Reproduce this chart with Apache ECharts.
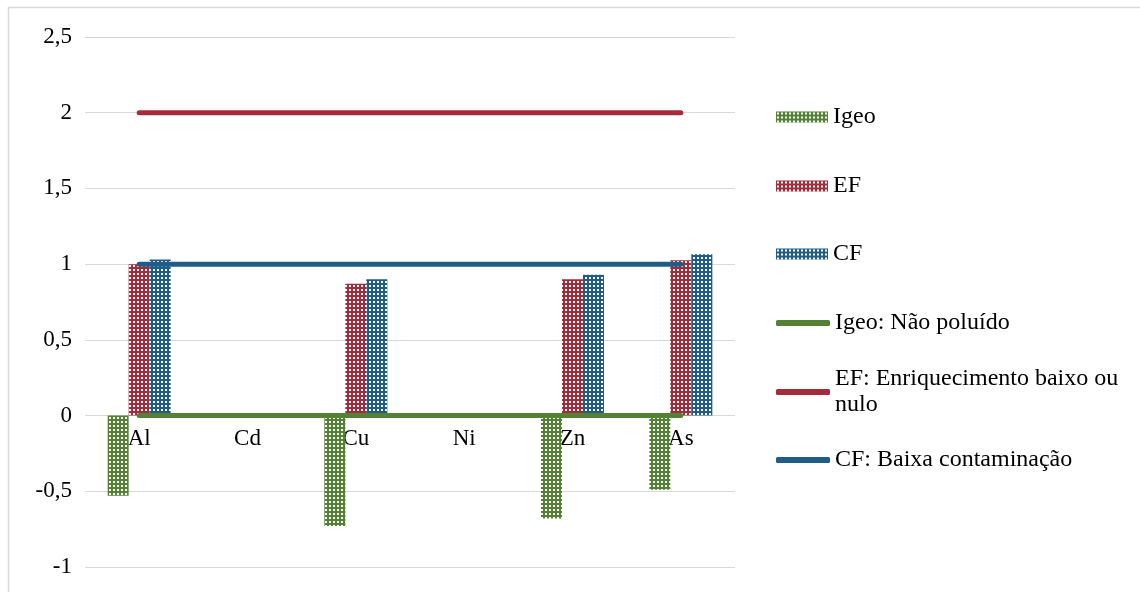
<!DOCTYPE html>
<html>
<head>
<meta charset="utf-8">
<script src="https://cdn.jsdelivr.net/npm/echarts@6/dist/echarts.min.js"></script>
<style>html,body{margin:0;padding:0;background:#fff}#c{width:1140px;height:592px}</style>
</head>
<body>
<div id="c"></div>
<script>
const categories = ['Al', 'Cd', 'Cu', 'Ni', 'Zn', 'As'];
const igeo = [-0.53, null, -0.73, null, -0.68, -0.49];
const ef = [1.00, null, 0.87, null, 0.90, 1.025];
const cf = [1.03, null, 0.90, null, 0.93, 1.065];
const igeoRef = [0, 0, 0, 0, 0, 0];
const efRef = [2, 2, 2, 2, 2, 2];
const cfRef = [1, 1, 1, 1, 1, 1];
const yTicks = { min: -1, max: 2.5, step: 0.5 };
const seriesNames = ['Igeo', 'EF', 'CF', 'Igeo: Não poluído', 'EF: Enriquecimento baixo ou\nnulo', 'CF: Baixa contaminação'];

const GREEN = '#548235', RED = '#A52A3A', BLUE = '#1F5C88';
function pat(color) {
  const c = document.createElement('canvas');
  c.width = 4; c.height = 4;
  const g = c.getContext('2d');
  g.fillStyle = color; g.fillRect(0, 0, 4, 4);
  g.fillStyle = '#fff'; g.fillRect(1, 1, 2, 2);
  return { image: c, repeat: 'repeat' };
}
const font = 'Liberation Serif';
const centers = [117, 186, 254, 323, 392, 460];
const legends = seriesNames.map((n, i) => {
  const isLine = i >= 3;
  const two = n.indexOf('\n') >= 0;
  const lh = 26;
  const blockH = two ? lh * 3 : lh;
  return {
    data: [{ name: n, icon: isLine ? 'roundRect' : 'rect' }],
    left: 776,
    top: centers[i] - blockH / 2,
    padding: 0,
    itemWidth: isLine ? 54 : 52,
    itemHeight: isLine ? 6 : 11,
    itemGap: 0,
    selectedMode: false,
    textStyle: { fontFamily: font, fontSize: 24, color: '#000', lineHeight: lh, padding: two ? [lh, 0, 0, 0] : 0 }
  };
});

const gridTop = 37, gridBottom = 25, plotH = 592 - gridTop - gridBottom;
const zeroOffset = -plotH * (0 - yTicks.min) / (yTicks.max - yTicks.min);

const chart = echarts.init(document.getElementById('c'));
chart.setOption({
  animation: false,
  backgroundColor: '#fff',
  graphic: [{ type: 'rect', shape: { x: 8.5, y: 7.5, width: 1200, height: 700 }, style: { fill: 'none', stroke: '#d9d9d9', lineWidth: 1.5 }, silent: true }],
  legend: legends,
  grid: { left: 85, right: 405, top: gridTop, bottom: gridBottom, containLabel: false, outerBoundsMode: 'none' },
  xAxis: {
    type: 'category', data: categories, offset: zeroOffset,
    axisLine: { show: false, onZero: false }, axisTick: { show: false },
    axisLabel: { fontFamily: font, fontSize: 23, color: '#000', margin: 12 }
  },
  yAxis: {
    type: 'value', min: yTicks.min, max: yTicks.max, interval: yTicks.step,
    axisLine: { show: false }, axisTick: { show: false },
    splitLine: { lineStyle: { color: '#d9d9d9', width: 1 } },
    axisLabel: { fontFamily: font, fontSize: 23, color: '#000', margin: 13, formatter: v => String(v).replace('.', ',') }
  },
  series: [
    { name: seriesNames[0], type: 'bar', data: igeo, barWidth: 21, barGap: '0%', itemStyle: { color: pat(GREEN) }, z: 2 },
    { name: seriesNames[1], type: 'bar', data: ef, barWidth: 21, barGap: '0%', itemStyle: { color: pat(RED) }, z: 2 },
    { name: seriesNames[2], type: 'bar', data: cf, barWidth: 21, barGap: '0%', itemStyle: { color: pat(BLUE) }, z: 2 },
    { name: seriesNames[3], type: 'line', data: igeoRef, symbol: 'none', lineStyle: { color: GREEN, width: 5, cap: 'round' }, itemStyle: { color: GREEN }, z: 5 },
    { name: seriesNames[4], type: 'line', data: efRef, symbol: 'none', lineStyle: { color: RED, width: 5, cap: 'round' }, itemStyle: { color: RED }, z: 5 },
    { name: seriesNames[5], type: 'line', data: cfRef, symbol: 'none', lineStyle: { color: BLUE, width: 5, cap: 'round' }, itemStyle: { color: BLUE }, z: 5 }
  ]
});
</script>
</body>
</html>
